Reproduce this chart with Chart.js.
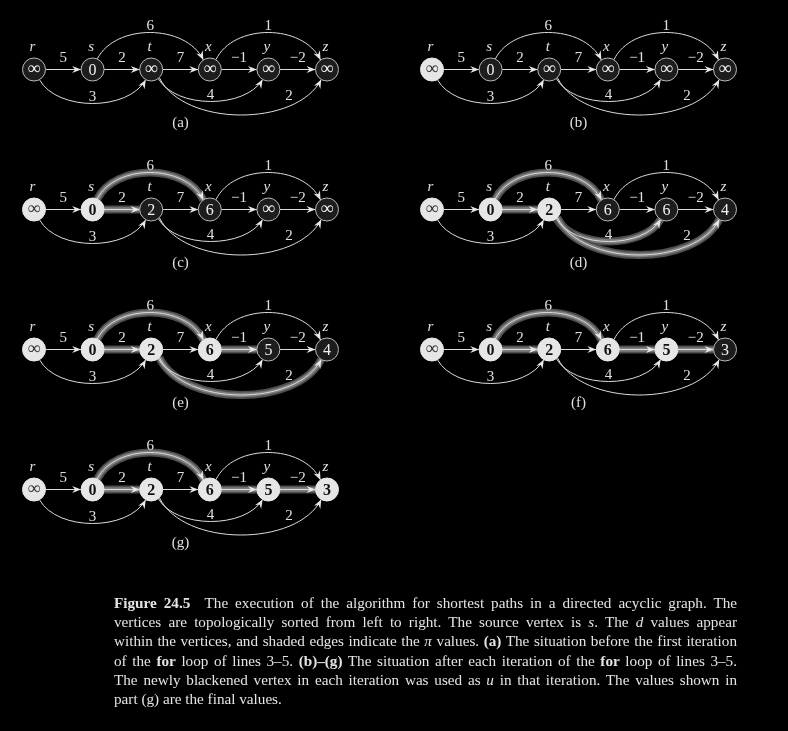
<!DOCTYPE html>
<html>
<head>
<meta charset="utf-8">
<script src="https://cdn.jsdelivr.net/npm/chart.js@4.4.1/dist/chart.umd.min.js"></script>
<style>
  html, body { margin: 0; padding: 0; background: #000; }
  #wrap { position: relative; width: 788px; height: 731px; overflow: hidden; }
  #plot { position: absolute; left: 0; top: 0; width: 788px; height: 731px; }
  #caption {
    position: absolute; left: 114px; top: 593px; width: 623px;
    font-family: "Liberation Serif", serif; font-size: 15.2px; line-height: 19.2px;
    color: #e4e4e4;
  }
  #caption div { text-align: justify; text-align-last: justify; }
  #caption div.last { text-align-last: left; }
</style>
</head>
<body>
<div id="wrap">
  <div id="plot"><canvas id="dagChart"></canvas></div>
  <div id="caption">
    <div><b>Figure 24.5</b>&ensp; The execution of the algorithm for shortest paths in a directed acyclic graph. The</div>
    <div>vertices are topologically sorted from left to right. The source vertex is <i>s</i>. The <i>d</i> values appear</div>
    <div>within the vertices, and shaded edges indicate the <i>π</i> values. <b>(a)</b> The situation before the first iteration</div>
    <div>of the <b>for</b> loop of lines 3–5. <b>(b)–(g)</b> The situation after each iteration of the <b>for</b> loop of lines 3–5.</div>
    <div>The newly blackened vertex in each iteration was used as <i>u</i> in that iteration. The values shown in</div>
    <div class="last">part (g) are the final values.</div>
  </div>
</div>
<script>
// vertices, in topological order
const vertexNames = ['r', 's', 't', 'x', 'y', 'z'];
const panelLabels = ['(a)', '(b)', '(c)', '(d)', '(e)', '(f)', '(g)'];

// edges of the dag
const edgeFrom    = [0, 1, 2, 3, 4, 0, 1, 3, 2, 2];
const edgeTo      = [1, 2, 3, 4, 5, 2, 3, 5, 4, 5];
const edgeWeights = [5, 2, 7, -1, -2, 3, 6, 1, 4, 2];

// d values shown inside the vertices for each part
const dA = [Infinity, 0, Infinity, Infinity, Infinity, Infinity];
const dB = [Infinity, 0, Infinity, Infinity, Infinity, Infinity];
const dC = [Infinity, 0, 2, 6, Infinity, Infinity];
const dD = [Infinity, 0, 2, 6, 6, 4];
const dE = [Infinity, 0, 2, 6, 5, 4];
const dF = [Infinity, 0, 2, 6, 5, 3];
const dG = [Infinity, 0, 2, 6, 5, 3];
const dValues = [dA, dB, dC, dD, dE, dF, dG];

// pi (predecessor) of each vertex, -1 is NIL
const piA = [-1, -1, -1, -1, -1, -1];
const piB = [-1, -1, -1, -1, -1, -1];
const piC = [-1, -1, 1, 1, -1, -1];
const piD = [-1, -1, 1, 1, 2, 2];
const piE = [-1, -1, 1, 1, 3, 2];
const piF = [-1, -1, 1, 1, 3, 4];
const piG = [-1, -1, 1, 1, 3, 4];
const piValues = [piA, piB, piC, piD, piE, piF, piG];

// number of blackened vertices (from the left) in each part
const blackened = [0, 1, 2, 3, 4, 5, 6];

// layout
const COL_SHIFT = 6.792;    // vertex spacings between the two columns
const UNIT = 58.6;           // px per vertex spacing
const ROW = 140;             // px per row
const R = 11.5;              // node radius
const FONT = '"Liberation Serif", serif';

// curve shape of the bent edges (by edge index): angles on circles, depth in px
const curveStyle = {
  5: { a1: 62, a2: 118, depth: 34 },
  6: { a1: -66, a2: -124, depth: -37 },
  7: { a1: -58, a2: -124, depth: -37 },
  8: { a1: 52, a2: 120, depth: 32 },
  9: { a1: 45, a2: 120, depth: 45.5, labelT: 0.75, labelDy: -6 }
};

function fmtNum(v) {
  if (v === Infinity) return '∞';
  return v < 0 ? '−' + Math.abs(v) : String(v);
}

const nodePoints = [];
const nodeFill = [];
const nodeBorder = [];
panelLabels.forEach((lab, p) => {
  const col = p % 2, row = Math.floor(p / 2);
  vertexNames.forEach((v, i) => {
    nodePoints.push({ x: col * COL_SHIFT + i, y: row });
    const black = i < blackened[p];
    nodeFill.push(black ? '#e6e6e6' : '#1d1d1d');
    nodeBorder.push(black ? '#e6e6e6' : '#b8b8b8');
  });
});

function nodePx(chart, p, i) {
  const col = p % 2, row = Math.floor(p / 2);
  return {
    x: chart.scales.x.getPixelForValue(col * COL_SHIFT + i),
    y: chart.scales.y.getPixelForValue(row)
  };
}

// geometry of edge e in part p: cubic bezier points
function edgeGeom(chart, p, e) {
  const a = nodePx(chart, p, edgeFrom[e]);
  const b = nodePx(chart, p, edgeTo[e]);
  const cs = curveStyle[e];
  if (!cs) {
    const P0 = { x: a.x + R, y: a.y }, P3 = { x: b.x - R, y: b.y };
    return { P0, P1: P0, P2: P0, P3, straight: true };
  }
  const r1 = cs.a1 * Math.PI / 180, r2 = cs.a2 * Math.PI / 180;
  const P0 = { x: a.x + R * Math.cos(r1), y: a.y + R * Math.sin(r1) };
  const P3 = { x: b.x + R * Math.cos(r2), y: b.y + R * Math.sin(r2) };
  const y0 = (P0.y + P3.y) / 2;
  const yc = (a.y + cs.depth - 0.25 * y0) / 0.75;
  const k = 0.12 * Math.abs(P3.x - P0.x) + 5;
  return { P0, P1: { x: P0.x + k, y: yc }, P2: { x: P3.x - k, y: yc }, P3, straight: false };
}

function bez(g, t) {
  const u = 1 - t;
  const c0 = u * u * u, c1 = 3 * u * u * t, c2 = 3 * u * t * t, c3 = t * t * t;
  return {
    x: c0 * g.P0.x + c1 * g.P1.x + c2 * g.P2.x + c3 * g.P3.x,
    y: c0 * g.P0.y + c1 * g.P1.y + c2 * g.P2.y + c3 * g.P3.y
  };
}

function tracePath(ctx, g) {
  ctx.beginPath();
  ctx.moveTo(g.P0.x, g.P0.y);
  if (g.straight) ctx.lineTo(g.P3.x, g.P3.y);
  else ctx.bezierCurveTo(g.P1.x, g.P1.y, g.P2.x, g.P2.y, g.P3.x, g.P3.y);
}

function drawArrow(ctx, g) {
  const from = g.straight ? g.P0 : g.P2;
  let dx = g.P3.x - from.x, dy = g.P3.y - from.y;
  const len = Math.hypot(dx, dy);
  dx /= len; dy /= len;
  const nx = -dy, ny = dx;
  const t = g.P3;
  ctx.beginPath();
  ctx.moveTo(t.x, t.y);
  ctx.lineTo(t.x - dx * 9 + nx * 3.6, t.y - dy * 9 + ny * 3.6);
  ctx.lineTo(t.x - dx * 6, t.y - dy * 6);
  ctx.lineTo(t.x - dx * 9 - nx * 3.6, t.y - dy * 9 - ny * 3.6);
  ctx.closePath();
  ctx.fillStyle = '#e8e8e8';
  ctx.fill();
}

const edgePlugin = {
  id: 'dagEdges',
  beforeDatasetsDraw(chart) {
    const ctx = chart.ctx;
    ctx.save();
    panelLabels.forEach((lab, p) => {
      const geoms = edgeFrom.map((f, e) => edgeGeom(chart, p, e));
      // shaded pi edges
      geoms.forEach((g, e) => {
        if (piValues[p][edgeTo[e]] !== edgeFrom[e]) return;
        tracePath(ctx, g);
        ctx.strokeStyle = '#4e4e4e';
        ctx.lineWidth = 8;
        ctx.stroke();
        tracePath(ctx, g);
        ctx.strokeStyle = '#7e7e7e';
        ctx.lineWidth = 4.5;
        ctx.stroke();
      });
      geoms.forEach((g) => {
        tracePath(ctx, g);
        ctx.strokeStyle = '#dcdcdc';
        ctx.lineWidth = 1;
        ctx.stroke();
        drawArrow(ctx, g);
      });
    });
    ctx.restore();
  },
  afterDatasetsDraw(chart) {
    const ctx = chart.ctx;
    ctx.save();
    ctx.textAlign = 'center';
    ctx.textBaseline = 'alphabetic';
    panelLabels.forEach((lab, p) => {
      // vertex names and d values
      vertexNames.forEach((v, i) => {
        const c = nodePx(chart, p, i);
        ctx.fillStyle = '#e0e0e0';
        ctx.font = 'italic 15px ' + FONT;
        ctx.fillText(v, c.x - 1.5, c.y - 18.5);
        const d = dValues[p][i];
        const black = i < blackened[p];
        const inf = d === Infinity;
        ctx.font = (black && !inf ? 'bold ' : '') + (inf ? '18px ' : '16px ') + FONT;
        ctx.fillStyle = black ? (inf ? '#333' : '#111') : '#f0f0f0';
        ctx.fillText(fmtNum(d), c.x, c.y + (inf ? 4.5 : 5.5));
      });
      // edge weights
      ctx.font = '15px ' + FONT;
      ctx.fillStyle = '#e0e0e0';
      edgeFrom.forEach((f, e) => {
        const g = edgeGeom(chart, p, e);
        const cs = curveStyle[e];
        let pos;
        if (!cs) {
          pos = { x: (g.P0.x + g.P3.x) / 2, y: g.P0.y - 8 };
        } else {
          const q = bez(g, cs.labelT || 0.5);
          const dy = cs.labelDy !== undefined ? cs.labelDy : (cs.depth < 0 ? -2.5 : -3);
          pos = { x: q.x, y: q.y + dy };
        }
        ctx.fillText(fmtNum(edgeWeights[e]), pos.x, pos.y);
      });
      // part label
      const left = nodePx(chart, p, 0), right = nodePx(chart, p, vertexNames.length - 1);
      ctx.font = '15px ' + FONT;
      ctx.fillText(lab, (left.x + right.x) / 2, left.y + 57);
    });
    ctx.restore();
  }
};

new Chart(document.getElementById('dagChart'), {
  type: 'scatter',
  data: {
    datasets: [{
      data: nodePoints,
      pointRadius: R,
      pointHoverRadius: R,
      pointBackgroundColor: nodeFill,
      pointBorderColor: nodeBorder,
      pointBorderWidth: 1,
      clip: false
    }]
  },
  options: {
    responsive: true,
    maintainAspectRatio: false,
    animation: false,
    events: [],
    layout: { padding: 0, autoPadding: false },
    scales: {
      x: { type: 'linear', display: false, min: -34 / UNIT, max: (788 - 34) / UNIT },
      y: { type: 'linear', display: false, reverse: true, min: -69.5 / ROW, max: (731 - 69.5) / ROW }
    },
    plugins: { legend: { display: false }, tooltip: { enabled: false } }
  },
  plugins: [edgePlugin]
});
</script>
</body>
</html>
